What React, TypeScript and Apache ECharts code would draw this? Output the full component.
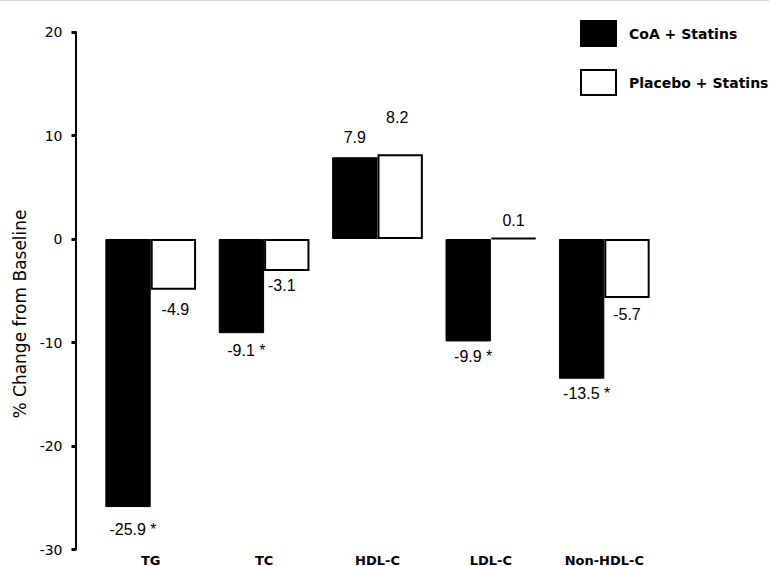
import React, { useEffect, useRef } from "react";
import * as echarts from "echarts";

const categories = ["TG", "TC", "HDL-C", "LDL-C", "Non-HDL-C"];
const coaValues = [-25.9, -9.1, 7.9, -9.9, -13.5];
const placeboValues = [-4.9, -3.1, 8.2, 0.1, -5.7];
const coaSignificant = [true, true, false, true, true];
const placeboSignificant = [false, false, false, false, false];
const seriesNames = ["CoA + Statins", "Placebo + Statins"];
const yTitle = "% Change from Baseline";

// label placement (style only)
const coaLabelDistance = [14, 9, 12, 7, 7];
const placeboLabelDistance = [12, 6, 29, 9, 9];
const coaLabelShift = [5, 5, 0, 5, 5];
const placeboLabelShift = [2, -5, -3, 0, 0];

const labelFont = {
  fontFamily: "Liberation Sans, Arial, sans-serif",
  fontSize: 16,
  color: "#000",
};

function buildData(values: number[], sig: boolean[], dist: number[], shift: number[]) {
  return values.map((v, i) => ({
    value: v,
    label: {
      show: true,
      position: v >= 0 ? "top" : "bottom",
      distance: dist[i],
      offset: [shift[i], 0],
      formatter: () => `${v.toFixed(1)}${sig[i] ? " *" : ""}`,
      ...labelFont,
    },
  }));
}

export default function App() {
  const ref = useRef<HTMLDivElement>(null);
  useEffect(() => {
    if (!ref.current) return;
    const chart = echarts.init(ref.current, null, { renderer: "svg" });
    chart.setOption({
      animation: false,
      backgroundColor: "#fff",
      grid: { left: 94, right: 108, top: 32, bottom: 16.5, outerBoundsMode: "none" },
      legend: {
        orient: "vertical",
        left: 575,
        top: 15,
        itemWidth: 35,
        itemHeight: 25,
        itemGap: 22,
        icon: "rect",
        data: seriesNames,
        textStyle: {
          fontFamily: "DejaVu Sans, sans-serif",
          fontWeight: "bold",
          fontSize: 14,
          color: "#000",
          padding: [0, 0, 0, 8],
        },
      },
      xAxis: {
        type: "category",
        data: categories,
        axisLine: { show: false },
        axisTick: { show: false },
        axisLabel: {
          margin: 4,
          fontFamily: "DejaVu Sans, sans-serif",
          fontWeight: "bold",
          fontSize: 13,
          color: "#000",
        },
      },
      yAxis: {
        type: "value",
        min: -30,
        max: 20,
        interval: 10,
        offset: 18.5,
        splitLine: { show: false },
        axisLine: { show: true, lineStyle: { color: "#000", width: 2 } },
        axisTick: { show: true, length: 4, lineStyle: { color: "#000", width: 3 } },
        axisLabel: {
          margin: 13,
          fontFamily: "DejaVu Sans, sans-serif",
          fontSize: 14,
          color: "#000",
        },
      },
      series: [
        {
          name: seriesNames[0],
          type: "bar",
          barGap: "0%",
          barCategoryGap: "20%",
          itemStyle: { color: "#000", borderColor: "#000", borderWidth: 1 },
          data: buildData(coaValues, coaSignificant, coaLabelDistance, coaLabelShift),
        },
        {
          name: seriesNames[1],
          type: "bar",
          barGap: "0%",
          barCategoryGap: "20%",
          itemStyle: { color: "#fff", borderColor: "#000", borderWidth: 2 },
          data: buildData(placeboValues, placeboSignificant, placeboLabelDistance, placeboLabelShift),
        },
      ],
      graphic: [
        {
          type: "line",
          shape: { x1: 0, y1: 0.5, x2: 769, y2: 0.5 },
          style: { stroke: "#d8d8d8", lineWidth: 1 },
        },
        {
          type: "text",
          x: 20,
          y: 314,
          rotation: Math.PI / 2,
          style: {
            text: yTitle,
            fontFamily: "DejaVu Sans, sans-serif",
            fontSize: 17,
            fill: "#000",
            align: "center",
            verticalAlign: "middle",
          },
        },
      ],
    });
    return () => chart.dispose();
  }, []);
  return (
    <div
      ref={ref}
      style={{ position: "fixed", left: 0, top: 0, width: 769, height: 566, background: "#fff" }}
    />
  );
}
